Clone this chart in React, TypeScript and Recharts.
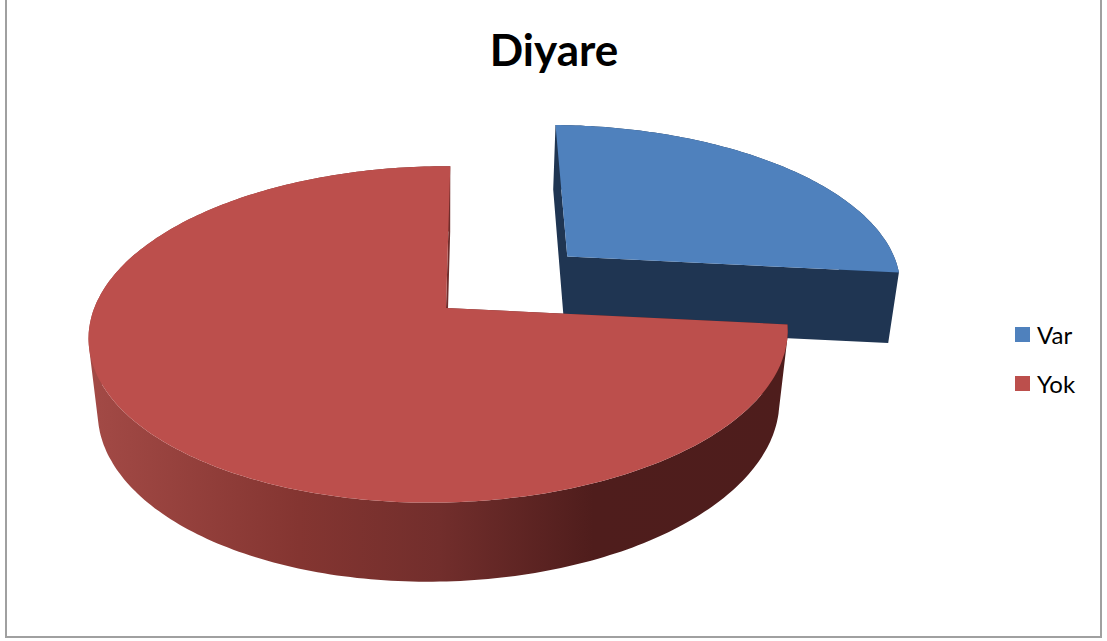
import { PieChart, Pie, Legend } from 'recharts'

const categories = ['Var', 'Yok']
const shares = [26.7, 73.3]
const topColors = ['#4F81BD', '#BC4F4C']
const explodedCategory = 'Var'

const data = categories.map((name, i) => ({ name, value: shares[i], fill: topColors[i] }))

// Camera used to turn the flat pie into a tilted disc
const WIDTH_RATIO = 2.104
const DEPTH = 73.5
const EXPLODE = 0.48
const EXPLODE_LIFT = 0.06
const FAR_SHRINK = 0.157
const SIDE_SHRINK = 0.02
const DEPTH_SHRINK = 0.025
const TILT = -1
const LEAN = 5

const RAD = Math.PI / 180

function PieSlice3D(props: any) {
  const { cx, cy, outerRadius, startAngle, endAngle, payload } = props
  const mid = ((startAngle + endAngle) / 2) * RAD
  const shift = payload.name === explodedCategory ? EXPLODE : 0
  const offU = shift * Math.cos(mid)
  const offV = shift * Math.sin(mid)

  const project = (u0: number, v0: number, z: number): [number, number] => {
    const u = u0 + offU
    const v = v0 + offV
    const w = 1 + FAR_SHRINK * v + SIDE_SHRINK * u + DEPTH_SHRINK * z - EXPLODE_LIFT * shift
    const x = cx + (outerRadius * WIDTH_RATIO * u + LEAN * v) / w
    const y = cy + (-outerRadius * v + TILT * u + DEPTH * z) / w
    return [x, y]
  }

  const rim: [number, number][] = []
  const steps = Math.ceil(Math.abs(endAngle - startAngle))
  for (let i = 0; i <= steps; i++) {
    const a = (startAngle + ((endAngle - startAngle) * i) / steps) * RAD
    rim.push([Math.cos(a), Math.sin(a)])
  }

  const toPath = (pts: [number, number][]) =>
    'M' + pts.map(([x, y]) => `${x.toFixed(1)},${y.toFixed(1)}`).join('L') + 'Z'

  // The wall folds back on itself at the silhouette, so every quad is wound the
  // same way before going into one path; otherwise the overlaps cancel out.
  const quad = (a: [number, number], b: [number, number]) => {
    const pts = [project(a[0], a[1], 0), project(b[0], b[1], 0), project(b[0], b[1], 1), project(a[0], a[1], 1)]
    const area = pts.reduce((sum, p, i) => {
      const q = pts[(i + 1) % 4]
      return sum + p[0] * q[1] - q[0] * p[1]
    }, 0)
    return toPath(area < 0 ? pts.reverse() : pts)
  }

  const center: [number, number] = [0, 0]
  const walls = [
    quad(center, rim[0]),
    quad(center, rim[rim.length - 1]),
    ...rim.slice(1).map((p, i) => quad(rim[i], p)),
  ].join('')
  const top = toPath([project(0, 0, 0), ...rim.map(([u, v]) => project(u, v, 0))])
  const sideFill = payload.name === explodedCategory ? '#1F3552' : 'url(#yokSide)'

  return (
    <g>
      <path d={walls} fill={sideFill} />
      <path d={top} fill={payload.fill} />
    </g>
  )
}

function LegendList({ payload }: any) {
  return (
    <div>
      {(payload ?? []).map((item: any) => (
        <div key={item.value} style={{ display: 'flex', alignItems: 'center', height: 49 }}>
          <span style={{ width: 15, height: 15, background: item.color, marginRight: 7 }} />
          <span style={{ fontFamily: 'Lato', fontSize: 24, color: '#000', lineHeight: '30px' }}>{item.value}</span>
        </div>
      ))}
    </div>
  )
}

export default function App() {
  return (
    <div style={{ position: 'absolute', left: 0, top: 0, width: 1107, height: 641, background: '#fff' }}>
      <PieChart width={1107} height={641} margin={{ top: 0, right: 0, bottom: 0, left: 0 }}>
        <defs>
          <linearGradient id="yokSide" gradientUnits="userSpaceOnUse" x1="89" y1="0" x2="789" y2="0">
            <stop offset="0%" stopColor="#A34A46" />
            <stop offset="30%" stopColor="#843531" />
            <stop offset="50%" stopColor="#722E2C" />
            <stop offset="72%" stopColor="#4F1D1C" />
            <stop offset="100%" stopColor="#4E1D1C" />
          </linearGradient>
        </defs>
        <rect x={6} y={-6} width={1095} height={643} fill="none" stroke="#A0A0A0" strokeWidth={2} />
        <text x={554} y={66} textAnchor="middle" fontFamily="Lato" fontWeight={700} fontSize={44} fill="#000">
          Diyare
        </text>
        <Pie
          data={data}
          dataKey="value"
          nameKey="name"
          cx={446}
          cy={308}
          outerRadius={164}
          startAngle={90}
          endAngle={-270}
          stroke="none"
          isAnimationActive={false}
          shape={PieSlice3D}
        />
        <Legend
          layout="vertical"
          content={LegendList}
          wrapperStyle={{ position: 'absolute', left: 1015, top: 310, width: 85, bottom: 'auto', right: 'auto' }}
        />
      </PieChart>
    </div>
  )
}
